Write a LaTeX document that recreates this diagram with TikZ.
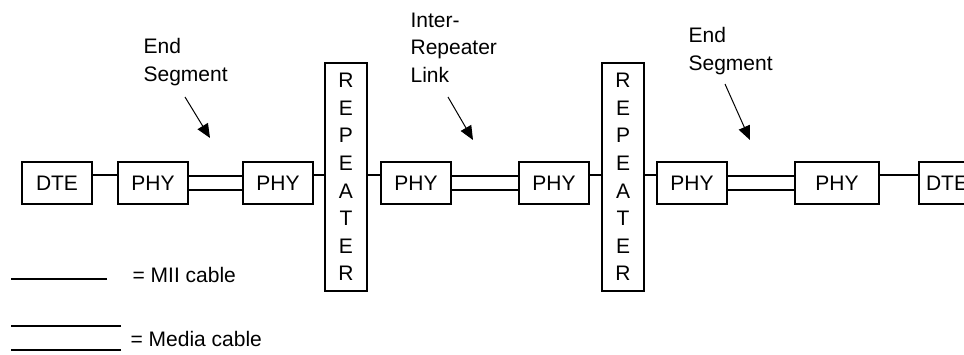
\documentclass[tikz,border=0pt]{standalone}
\usepackage{fontspec}
\setmainfont{Liberation Sans}
\usetikzlibrary{positioning, arrows.meta}

\begin{document}
\begin{tikzpicture}[
    x=1pt, y=1pt,
    line width=1.2pt,
    font=\fontsize{21}{27.6}\selectfont,
    % Styles for the boxes along the link
    unit/.style={rectangle, draw=black, minimum width=70pt, minimum height=42pt, inner sep=0pt, outer sep=0pt},
    repeater/.style={rectangle, draw=black, minimum width=42pt, minimum height=228pt, inner sep=0pt, outer sep=0pt, align=center},
    note/.style={inner sep=0pt, align=left, anchor=north west},
    key/.style={inner sep=0pt, anchor=west},
    pointer/.style={-{Triangle[length=14pt, width=12pt]}, line width=1pt}
]
  \useasboundingbox (0,0) rectangle (964,354);

  % --- LINK: DTE, PHYs AND REPEATERS ---
  \node[unit] (dteL) at (57,171) {DTE};
  \node[unit, right=26pt of dteL] (phyA) {PHY};
  \node[unit, right=55pt of phyA] (phyB) {PHY};
  \node[repeater, right=12pt of phyB, yshift=6pt] (repA) {R\\E\\P\\E\\A\\T\\E\\R};
  \node[unit, right=68pt of phyB] (phyC) {PHY};
  \node[unit, right=68pt of phyC] (phyD) {PHY};
  \node[repeater, right=13pt of phyD, yshift=6pt] (repB) {R\\E\\P\\E\\A\\T\\E\\R};
  \node[unit, right=68pt of phyD] (phyE) {PHY};
  \node[unit, minimum width=84pt, right=68pt of phyE] (phyF) {PHY};
  \node[unit, minimum width=56pt, right=40pt of phyF] (dteR) {DTE};

  % --- MII CABLES ---
  \draw ([yshift=8pt]dteL.east) -- ([yshift=8pt]phyA.west);
  \draw ([yshift=8pt]phyB.east) -- ([yshift=2pt]repA.west);
  \draw ([yshift=2pt]repA.east) -- ([yshift=8pt]phyC.west);
  \draw ([yshift=8pt]phyD.east) -- ([yshift=2pt]repB.west);
  \draw ([yshift=2pt]repB.east) -- ([yshift=8pt]phyE.west);
  \draw ([yshift=8pt]phyF.east) -- ([yshift=8pt]dteR.west);

  % --- MEDIA CABLES ---
  \draw ([yshift=7pt]phyA.east) -- ([yshift=7pt]phyB.west);
  \draw ([yshift=-7pt]phyA.east) -- ([yshift=-7pt]phyB.west);
  \draw ([yshift=7pt]phyC.east) -- ([yshift=7pt]phyD.west);
  \draw ([yshift=-7pt]phyC.east) -- ([yshift=-7pt]phyD.west);
  \draw ([yshift=7pt]phyE.east) -- ([yshift=7pt]phyF.west);
  \draw ([yshift=-7pt]phyE.east) -- ([yshift=-7pt]phyF.west);

  % --- SEGMENT LABELS ---
  \node[note] (lblA) at (143,316) {End\\Segment};
  \node[note] (lblB) at (410,342) {Inter-\\Repeater\\Link};
  \node[note] (lblC) at (688,327) {End\\Segment};

  \coordinate (tailA) at (185,257);
  \coordinate (tipA) at (210,216);
  \coordinate (tailB) at (448,257);
  \coordinate (tipB) at (473,214);
  \coordinate (tailC) at (725,270);
  \coordinate (tipC) at (750,214);

  \draw[pointer] (tailA) -- (tipA);
  \draw[pointer] (tailB) -- (tipB);
  \draw[pointer] (tailC) -- (tipC);

  % --- LEGEND ---
  \node[key] (keyMii) at (132,79) {= MII cable};
  \node[key] (keyMedia) at (130,15) {= Media cable};

  \draw ([shift={(-25pt,-4pt)}]keyMii.west) -- ++(-96pt,0);
  \draw ([shift={(-9pt,13pt)}]keyMedia.west) -- ++(-110pt,0);
  \draw ([shift={(-9pt,-11pt)}]keyMedia.west) -- ++(-110pt,0);

\end{tikzpicture}
\end{document}
